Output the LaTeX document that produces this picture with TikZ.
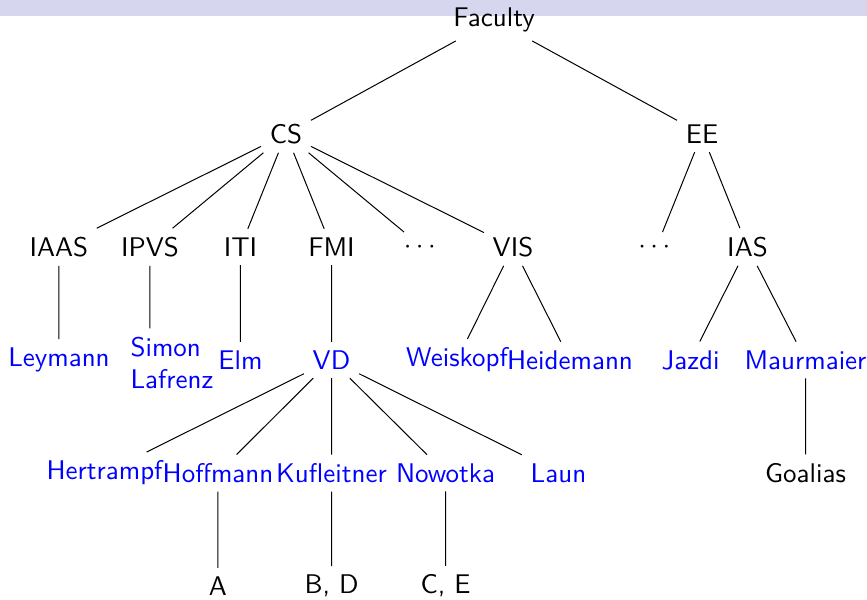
\documentclass[tikz,border=0pt]{standalone}
\usepackage{amsmath}
\usepackage{xcolor}
\usepackage{tikz}
\usetikzlibrary{positioning}

\definecolor{headband}{RGB}{214,214,239}

\begin{document}
\begin{tikzpicture}[x=0.4pt,y=-0.4pt,on grid,node distance=45.2pt,
    every node/.style={font=\fontsize{10.8}{12.8}\selectfont\sffamily},
    prof/.style={text=blue}]
    \fill[headband] (0,0) rectangle (867,16);
    \useasboundingbox (0,0) rectangle (867,600);
    \node (fac) at (494,20)                                 {Faculty};
    \node (cs)    [below left=45.6pt and 83.2pt of fac]     {CS};
    \node (ee)    [below right=45.6pt and 83.2pt of fac]    {EE};
    % institutes
    \node (iaas)  [below left=45.2pt and 90.8pt of cs]      {IAAS};
    \node (ipvs)  [below left=45.2pt and 54.4pt of cs]      {IPVS};
    \node (iti)   [below left=45.2pt and 18.2pt of cs]      {ITI};
    \node (fmi)   [below right=45.2pt and 18.2pt of cs]     {FMI};
    \node (dotsa) [below right=45.2pt and 54.4pt of cs]     {$\cdots$};
    \node (vis)   [below right=45.2pt and 90.8pt of cs]     {VIS};
    \node (dotsb) [below left=45.2pt and 18.2pt of ee]      {$\cdots$};
    \node (ias)   [below right=45.2pt and 18.2pt of ee]     {IAS};
    % groups
    \node[prof] (ley)  [below=of iaas]                      {Leymann};
    \node[prof,align=left] (sl) [below right=46.4pt and 8.8pt of ipvs] {Simon\\Lafrenz};
    \node[prof] (elm)  [below=of iti]                       {Elm};
    \node[prof] (vd)   [below=of fmi]                       {VD};
    \node[prof] (weis) [below left=45.2pt and 22.4pt of vis]  {Weiskopf};
    \node[prof] (heid) [below right=45.2pt and 22.8pt of vis] {Heidemann};
    \node[prof] (jaz)  [below left=45.2pt and 22.8pt of ias]  {Jazdi};
    \node[prof] (maur) [below right=45.2pt and 23.2pt of ias] {Maurmaier};
    % VD members
    \node[prof] (hert) [below left=45.2pt and 90.8pt of vd]   {Hertrampf};
    \node[prof] (hoff) [below left=45.2pt and 45.4pt of vd]   {Hoffmann};
    \node[prof] (kuf)  [below=of vd]                          {Kufleitner};
    \node[prof] (now)  [below right=45.2pt and 45.6pt of vd]  {Nowotka};
    \node[prof] (laun) [below right=45.2pt and 90.8pt of vd]  {Laun};
    \node (goal) [below=of maur]                              {Goalias};
    % students
    \node (a)  [below=of hoff] {A};
    \node (bd) [below=of kuf]  {B, D};
    \node (ce) [below=of now]  {C, E};
    \draw
    (fac) -- (cs)
    (fac) -- (ee)
    % CS edges
    (cs) -- (iaas)
    (cs) -- (ipvs)
    (cs) -- (iti)
    (cs) -- (fmi)
    (cs) -- (dotsa)
    (cs) -- (vis)
    % EE edges
    (ee) -- (dotsb)
    (ee) -- (ias)
    % group edges
    (iaas) -- (ley)
    (ipvs) -- (ipvs |- sl.north)
    (iti) -- (elm)
    (fmi) -- (vd)
    (vis) -- (weis)
    (vis) -- (heid)
    (ias) -- (jaz)
    (ias) -- (maur)
    % VD edges
    (vd) -- (hert)
    (vd) -- (hoff)
    (vd) -- (kuf)
    (vd) -- (now)
    (vd) -- (laun)
    (maur) -- (goal)
    % student edges
    (hoff) -- (a)
    (kuf) -- (bd)
    (now) -- (ce);
\end{tikzpicture}
\end{document}
